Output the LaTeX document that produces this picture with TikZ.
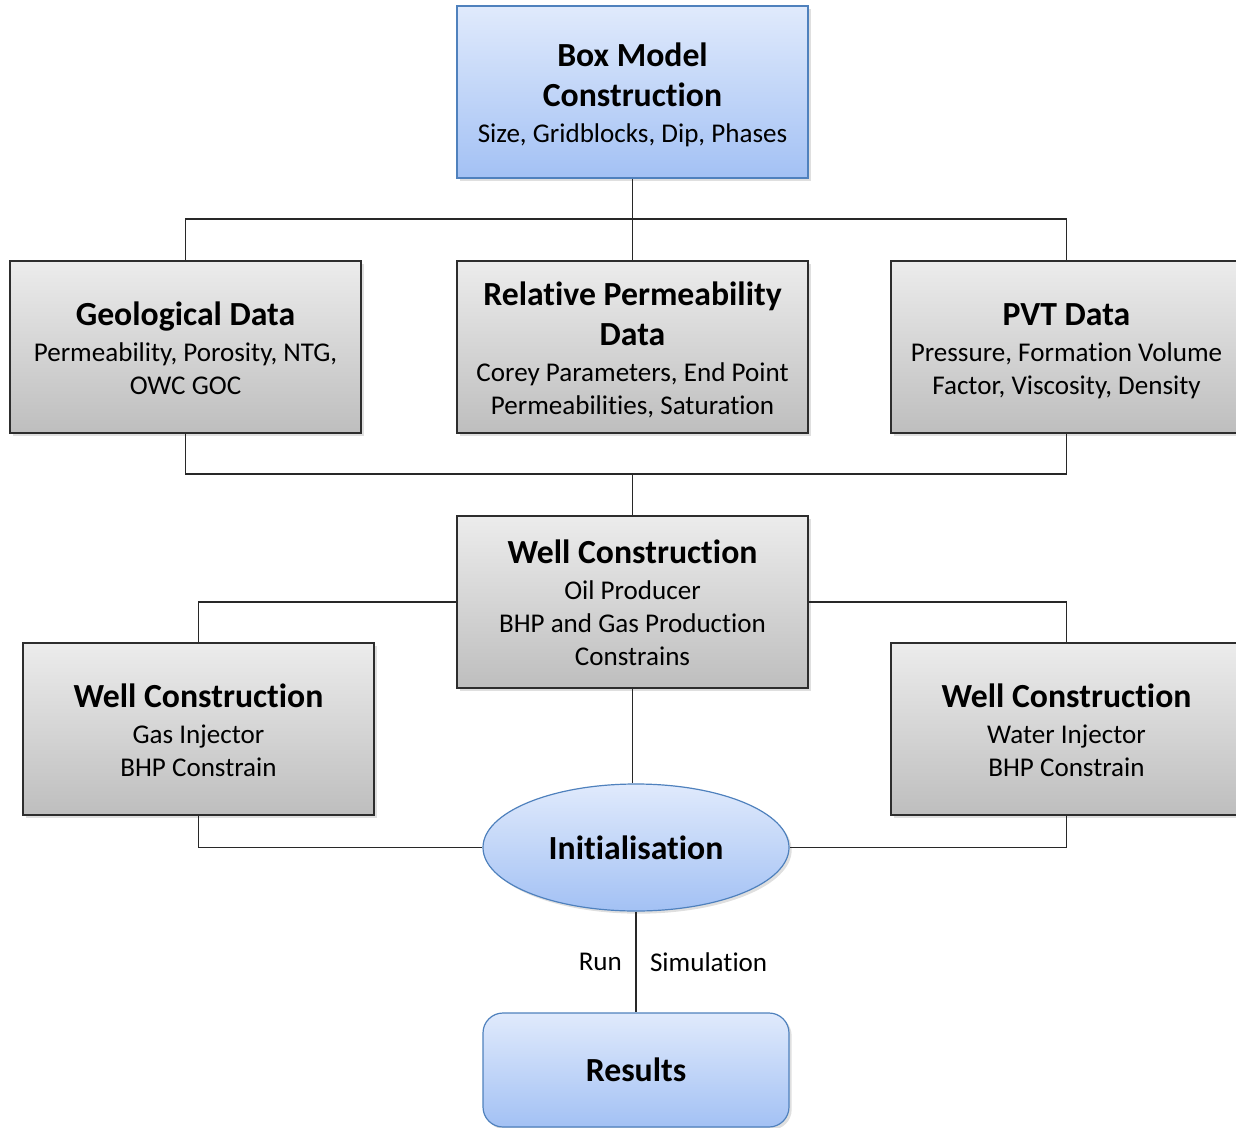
\documentclass[tikz,border=0pt]{standalone}
\usepackage{fontspec}
\setmainfont{Carlito}[Ligatures={NoCommon}]
\usetikzlibrary{shapes.geometric,shadows}
\definecolor{bluetop}{RGB}{224,234,252}
\definecolor{bluebot}{RGB}{163,193,244}
\definecolor{blueedge}{RGB}{79,129,189}
\definecolor{graytop}{RGB}{236,236,236}
\definecolor{graybot}{RGB}{190,190,190}
\definecolor{grayedge}{RGB}{45,45,45}
\definecolor{linec}{RGB}{40,40,40}
\newcommand{\ttl}[1]{{\fontsize{25.3}{30.75}\selectfont\bfseries #1}}
\newcommand{\topstrut}{\rule{0pt}{25pt}}
\newcommand{\botstrut}{\rule[-6pt]{0pt}{6pt}}
\tikzset{
  base/.style={align=center, inner sep=0pt, font=\fontsize{20.3}{24.75}\selectfont, text=black,
    drop shadow={opacity=0.25, shadow xshift=2pt, shadow yshift=-2pt}},
  bluebox/.style={base, rectangle, draw=blueedge, line width=0.9pt, top color=bluetop, bottom color=bluebot,
    minimum width=263.25pt, minimum height=129pt},
  graybox/.style={base, rectangle, draw=grayedge, line width=0.9pt, top color=graytop, bottom color=graybot,
    minimum width=263.25pt, minimum height=129pt},
  blueell/.style={base, ellipse, draw=blueedge, line width=0.9pt, top color=bluetop, bottom color=bluebot,
    minimum width=229.5pt, minimum height=95.25pt},
  bluernd/.style={base, rectangle, rounded corners=15pt, draw=blueedge, line width=0.9pt, top color=bluetop, bottom color=bluebot,
    minimum width=229.5pt, minimum height=85.5pt},
  conn/.style={draw=linec, line width=1.1pt},
  lbl/.style={font=\fontsize{20.3}{24.75}\selectfont, text=black, inner sep=0pt}
}
\begin{document}
\begin{tikzpicture}[x=0.75pt, y=-0.75pt]
\useasboundingbox (0,0) rectangle (1236,1128);
% nodes
\node[bluebox] (bm) at (632.5,92) {\topstrut\ttl{Box Model}\\[5.25pt]\ttl{Construction}\\[2.5pt]Size, Gridblocks, Dip, Phases\botstrut};
\node[graybox] (geo) at (185.5,347) {\topstrut\ttl{Geological Data}\\[2.5pt]Permeability, Porosity, NTG,\\OWC GOC\botstrut};
\node[graybox] (rel) at (632.5,347) {\topstrut\ttl{Relative Permeability}\\[5.25pt]\ttl{Data}\\[2.5pt]Corey Parameters, End Point\\Permeabilities, Saturation\botstrut};
\node[graybox] (pvt) at (1066.5,347) {\topstrut\ttl{PVT Data}\\[2.5pt]Pressure, Formation Volume\\Factor, Viscosity, Density\botstrut};
\node[graybox] (wcc) at (632.5,602) {\topstrut\ttl{Well Construction}\\[2.5pt]Oil Producer\\BHP and Gas Production\\Constrains\botstrut};
\node[graybox] (wcl) at (198.5,729) {\topstrut\ttl{Well Construction}\\[2.5pt]Gas Injector\\BHP Constrain\botstrut};
\node[graybox] (wcr) at (1066.5,729) {\topstrut\ttl{Well Construction}\\[2.5pt]Water Injector\\BHP Constrain\botstrut};
\node[blueell] (init) at (636,847.5) {\ttl{Initialisation}};
\node[bluernd] (res) at (636,1070) {\ttl{Results}};
% junctions
\coordinate (j1) at (632.5,219);
\coordinate (j2) at (632.5,474);
% connectors
\draw[conn] (bm.south) -- (j1);
\draw[conn] (geo.north) |- (j1) -| (pvt.north);
\draw[conn] (j1) -- (rel.north);
\draw[conn] (geo.south) |- (j2) -| (pvt.south);
\draw[conn] (j2) -- (wcc.north);
\draw[conn] (wcc.west) -| (wcl.north);
\draw[conn] (wcc.east) -| (wcr.north);
\draw[conn] (wcc.south) -- (wcc.south |- init.north);
\draw[conn] (wcl.south) |- (init.west);
\draw[conn] (wcr.south) |- (init.east);
\draw[conn] (init.south) -- (res.north)
  node[pos=0.5, lbl, anchor=east, xshift=-10pt] (run) {Run}
  node[pos=0.5, lbl, anchor=west, xshift=10pt] (sim) {Simulation};
\end{tikzpicture}
\end{document}
